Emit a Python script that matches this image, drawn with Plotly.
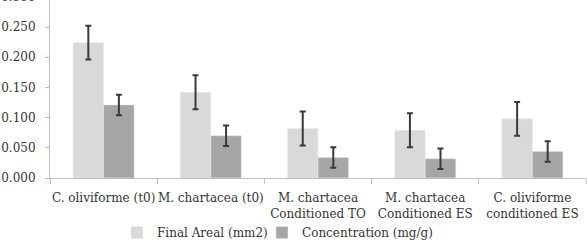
import plotly.graph_objects as go

categories = ["C. oliviforme (t0)", "M. chartacea (t0)", "M. chartacea<br>Conditioned TO",
              "M. chartacea<br>Conditioned ES", "C. oliviforme<br>conditioned ES"]
area_vals = [0.224, 0.142, 0.082, 0.079, 0.098]
area_err = [0.028, 0.028, 0.028, 0.028, 0.028]
conc_vals = [0.121, 0.070, 0.034, 0.032, 0.044]
conc_err = [0.017, 0.017, 0.017, 0.017, 0.017]
series_names = ["Final Areal (mm2)", "Concentration (mg/g)"]
y_ticks = [0.0, 0.05, 0.10, 0.15, 0.20, 0.25]
y_top_label = 0.300
y_max = 0.2947

FONT = "DejaVu Serif"
TXT = "#333333"
AX = "#bfbfbf"
ERR = "#3a3a3a"

fig = go.Figure()
fig.add_trace(go.Bar(
    x=categories, y=area_vals, name=series_names[0], marker_color="#d9d9d9",
    error_y=dict(type="data", array=area_err, color=ERR, thickness=2, width=3),
    legend="legend",
))
fig.add_trace(go.Bar(
    x=categories, y=conc_vals, name=series_names[1], marker_color="#a6a6a6",
    error_y=dict(type="data", array=conc_err, color=ERR, thickness=2, width=3),
    legend="legend2",
))

leg_common = dict(orientation="h", xanchor="left", y=-0.225, yanchor="top",
                  font=dict(family=FONT, size=12, color=TXT), bgcolor="rgba(0,0,0,0)")

fig.update_layout(
    width=587, height=242,
    margin=dict(l=50, r=1, t=0, b=64, autoexpand=False),
    paper_bgcolor="white", plot_bgcolor="white",
    barmode="group", bargap=0.43, bargroupgap=0,
    font=dict(family=FONT, size=12, color=TXT),
    showlegend=True,
    legend=dict(x=0.125, **leg_common),
    legend2=dict(x=0.3955, **leg_common),
    xaxis=dict(type="category", showline=True, linecolor=AX, linewidth=1,
               ticks="outside", tickson="boundaries", ticklen=5, tickcolor=AX,
               tickangle=0, automargin=False, ticklabelstandoff=9,
               showgrid=False, tickfont=dict(family=FONT, size=12, color=TXT)),
    yaxis=dict(range=[0, y_max], tickvals=y_ticks, tickformat=".3f",
               showline=True, linecolor=AX, linewidth=1, ticks="outside", ticklen=4,
               tickcolor=AX, showgrid=False, zeroline=False, automargin=False,
               ticklabelstandoff=7,
               tickfont=dict(family=FONT, size=12, color=TXT)),
)

fig.add_annotation(xref="paper", yref="paper", x=0, y=y_top_label / y_max,
                   xanchor="right", yanchor="middle", xshift=-13, showarrow=False,
                   text=f"{y_top_label:.3f}", font=dict(family=FONT, size=12, color=TXT))

fig.write_html("out.html")
